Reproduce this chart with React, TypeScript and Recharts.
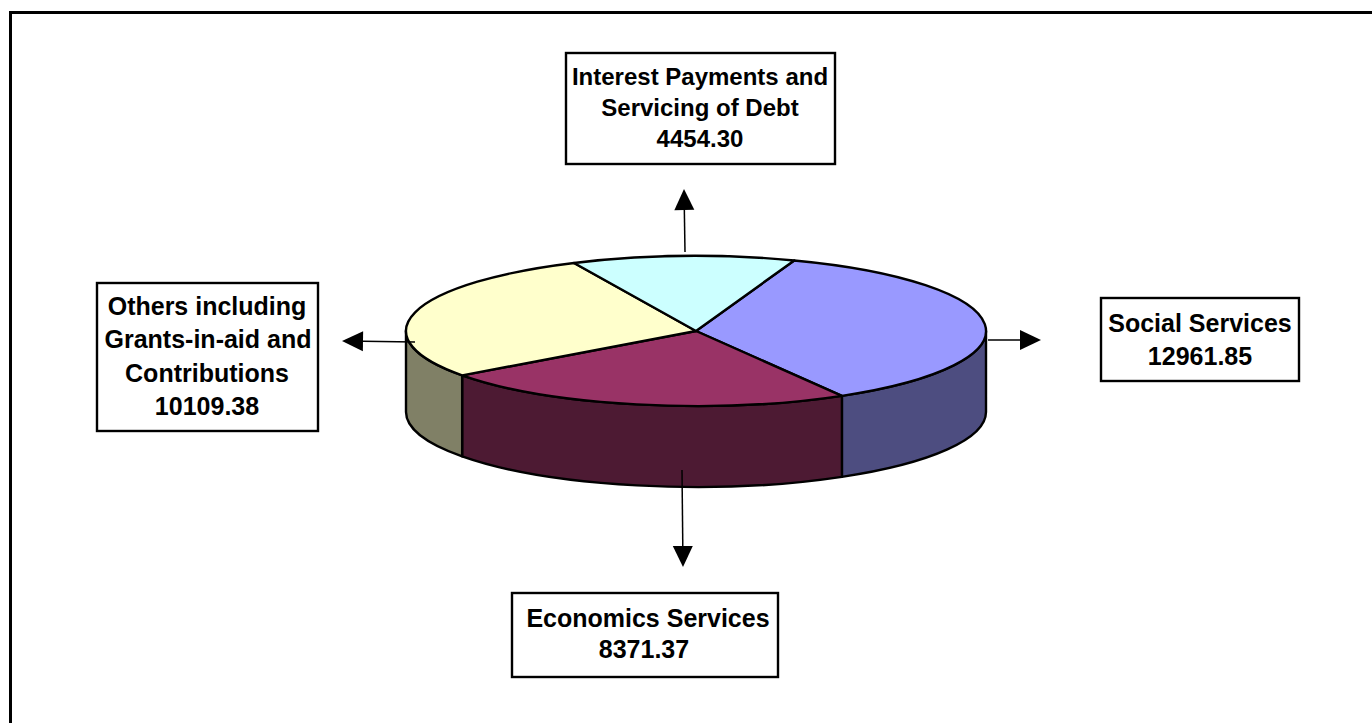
import React from "react";
import { PieChart, Pie, Cell } from "recharts";

const categories = [
  "Social Services",
  "Economics Services",
  "Others including Grants-in-aid and Contributions",
  "Interest Payments and Servicing of Debt",
];
const amounts = [12961.85, 8371.37, 10109.38, 4454.3];
const topColors = ["#9999FF", "#993366", "#FFFFCC", "#CCFFFF"];
const wallColors = ["#4D4D80", "#4D1A33", "#808066", "#66807F"];

const amountLabels = ["12961.85", "8371.37", "10109.38", "4454.30"];

const pieData = categories.map((name, i) => ({ name, value: amounts[i] }));

// Tilted disc: the pie's radius is squashed vertically and extruded downwards.
const CX = 696;
const CY = 331;
const RADIUS = 290;
const SQUASH = 75 / 290;
const DEPTH = 81;
const RAD = Math.PI / 180;

const rimPoint = (cx: number, cy: number, r: number, deg: number) => ({
  x: cx + r * Math.cos(deg * RAD),
  y: cy - r * SQUASH * Math.sin(deg * RAD),
});

// Elliptical wedge for the top face of the disc.
function TopSlice(props: any) {
  const { cx, cy, outerRadius: r, startAngle, endAngle, fill } = props;
  const a = rimPoint(cx, cy, r, startAngle);
  const b = rimPoint(cx, cy, r, endAngle);
  const large = Math.abs(endAngle - startAngle) > 180 ? 1 : 0;
  const d = `M${cx},${cy} L${a.x},${a.y} A${r},${r * SQUASH} 0 ${large} 1 ${b.x},${b.y} Z`;
  return <path d={d} fill={fill} stroke="#000" strokeWidth={2.4} strokeLinejoin="round" />;
}

// Side wall of one slice; only the part facing the viewer (angles -180..0) is drawn.
function WallSlice(props: any) {
  const { cx, cy, outerRadius: r, startAngle, endAngle, fill } = props;
  const from = Math.min(startAngle, 0);
  const to = Math.max(endAngle, -180);
  if (from <= to) return <g />;
  const a = rimPoint(cx, cy, r, from);
  const b = rimPoint(cx, cy, r, to);
  const ry = r * SQUASH;
  const d =
    `M${a.x},${a.y} A${r},${ry} 0 0 1 ${b.x},${b.y} ` +
    `L${b.x},${b.y + DEPTH} A${r},${ry} 0 0 0 ${a.x},${a.y + DEPTH} Z`;
  return <path d={d} fill={fill} stroke="#000" strokeWidth={2.4} strokeLinejoin="round" />;
}

type Callout = {
  box: [number, number, number, number];
  fontSize: number;
  centers: number[];
  lines: string[];
  baselines: number[];
};

const callouts: Callout[] = [
  {
    box: [566, 53, 269, 111],
    fontSize: 24,
    centers: [700, 700, 700],
    lines: ["Interest Payments and", "Servicing of Debt", amountLabels[3]],
    baselines: [85, 116, 147],
  },
  {
    box: [97, 283, 221, 148],
    fontSize: 25,
    centers: [207, 208, 207, 207],
    lines: ["Others including", "Grants-in-aid and", "Contributions", amountLabels[2]],
    baselines: [315, 348, 382, 415],
  },
  {
    box: [1101, 298, 198, 83],
    fontSize: 25,
    centers: [1200, 1200],
    lines: ["Social Services", amountLabels[0]],
    baselines: [332, 365],
  },
  {
    box: [512, 593, 266, 84],
    fontSize: 25,
    centers: [648, 644],
    lines: ["Economics Services", amountLabels[1]],
    baselines: [627, 658],
  },
];

type Arrow = { from: [number, number]; tip: [number, number] };

const arrows: Arrow[] = [
  { from: [685, 252], tip: [684, 189] },
  { from: [988, 340], tip: [1041, 340] },
  { from: [415, 342], tip: [342, 341] },
  { from: [682, 470], tip: [683, 567] },
];

function ArrowMark({ from, tip }: Arrow) {
  const len = Math.hypot(tip[0] - from[0], tip[1] - from[1]);
  const ux = (tip[0] - from[0]) / len;
  const uy = (tip[1] - from[1]) / len;
  const bx = tip[0] - ux * 21;
  const by = tip[1] - uy * 21;
  const head = `${tip[0]},${tip[1]} ${bx - uy * 10},${by + ux * 10} ${bx + uy * 10},${by - ux * 10}`;
  return (
    <g>
      <line x1={from[0]} y1={from[1]} x2={bx} y2={by} stroke="#000" strokeWidth={1.5} />
      <polygon points={head} fill="#000" />
    </g>
  );
}

function CalloutBox({ box, fontSize, centers, lines, baselines }: Callout) {
  const [x, y, w, h] = box;
  return (
    <g>
      <rect x={x} y={y} width={w} height={h} fill="#fff" stroke="#000" strokeWidth={2.4} />
      {lines.map((line, i) => (
        <text
          key={line}
          x={centers[i]}
          y={baselines[i]}
          textAnchor="middle"
          fontFamily="'Liberation Sans', Arial, sans-serif"
          fontWeight={700}
          fontSize={fontSize}
          fill="#000"
        >
          {line}
        </text>
      ))}
    </g>
  );
}

export default function App() {
  return (
    <div style={{ position: "absolute", left: 0, top: 0, width: 1372, height: 723, background: "#fff", overflow: "hidden" }}>
      {/* Frame runs off the right and bottom edges of the page */}
      <div
        style={{
          position: "absolute",
          left: 9,
          top: 11,
          width: 1400,
          height: 800,
          border: "3px solid #000",
          boxSizing: "border-box",
        }}
      />
      <div style={{ position: "absolute", left: 0, top: 0 }}>
        <PieChart width={1372} height={723} margin={{ top: 0, right: 0, bottom: 0, left: 0 }}>
          <Pie
            data={pieData}
            dataKey="value"
            nameKey="name"
            cx={CX}
            cy={CY}
            outerRadius={RADIUS}
            startAngle={70.2}
            endAngle={-289.8}
            paddingAngle={0}
            isAnimationActive={false}
            shape={WallSlice}
            labelLine={false}
            label={false}
          >
            {pieData.map((d, i) => (
              <Cell key={d.name} fill={wallColors[i]} />
            ))}
          </Pie>
          <Pie
            data={pieData}
            dataKey="value"
            nameKey="name"
            cx={CX}
            cy={CY}
            outerRadius={RADIUS}
            startAngle={70.2}
            endAngle={-289.8}
            paddingAngle={0}
            isAnimationActive={false}
            shape={TopSlice}
            labelLine={false}
            label={false}
          >
            {pieData.map((d, i) => (
              <Cell key={d.name} fill={topColors[i]} />
            ))}
          </Pie>
        </PieChart>
      </div>
      {/* Leader arrows and callout boxes sit above the disc */}
      <svg width={1372} height={723} style={{ position: "absolute", left: 0, top: 0 }}>
        {arrows.map((a, i) => (
          <ArrowMark key={i} {...a} />
        ))}
        {callouts.map((c) => (
          <CalloutBox key={c.lines[0]} {...c} />
        ))}
      </svg>
    </div>
  );
}
